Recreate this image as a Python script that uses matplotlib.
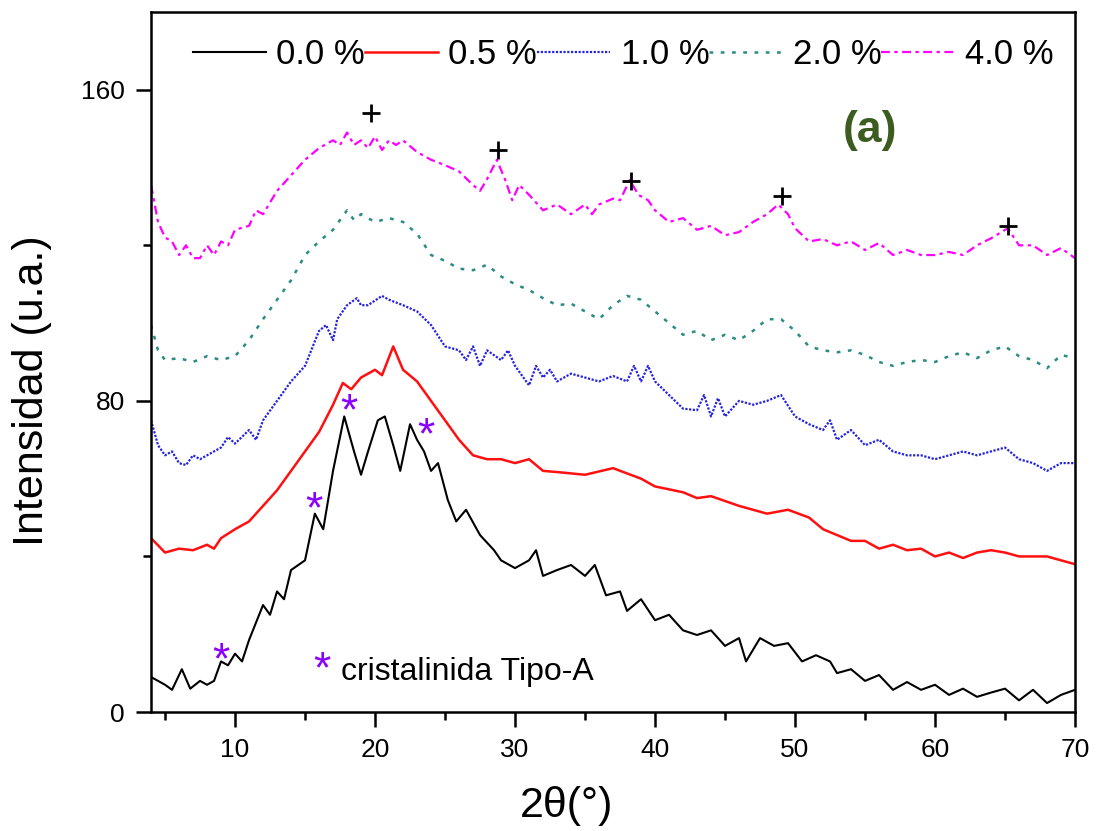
import matplotlib
matplotlib.use("Agg")
import matplotlib.pyplot as plt
from matplotlib.ticker import MultipleLocator

plt.rcParams["font.family"] = ["Liberation Sans", "DejaVu Sans"]

# 0.0 %
x0 = [4, 5, 5.5, 6.2, 6.8, 7.5, 8, 8.5, 9, 9.5, 10, 10.5, 11, 12, 12.5, 13, 13.5, 14, 15,
      15.7, 16.3, 17, 17.8, 18.5, 19, 19.5, 20.2, 20.7, 21.3, 21.8, 22.5, 23, 23.5, 24, 24.5,
      25.2, 25.8, 26.5, 27.5, 28.5, 29, 30, 31, 31.5, 32, 33, 34, 35, 35.7, 36.5, 37.5, 38,
      39, 40, 41, 42, 43, 44, 45, 46, 46.5, 47.5, 48.5, 49.5, 50.5, 51.5, 52.5, 53, 54, 55,
      56, 57, 58, 59, 60, 61, 62, 63, 64, 65, 66, 67, 68, 69, 70]
y0 = [9, 7, 5.7, 11, 6, 8, 7, 8, 13, 12, 15, 13, 18.5, 27.5, 25, 31, 29, 36.5, 39,
      51, 47, 62, 76, 67, 61, 67, 75, 76, 68.6, 62, 74, 70, 67, 62, 64,
      54.5, 49, 52, 45.5, 41.6, 39, 37, 39, 41.6, 35, 36.5, 37.8, 35, 37.8, 30, 31, 26,
      29, 23.6, 25, 21, 19.8, 21, 17, 19, 13, 19, 17, 17.7, 13, 14.6, 13, 10, 11, 8,
      9.5, 5.7, 7.7, 5.7, 7, 4.4, 6, 3.9, 5, 6, 3, 5.7, 2.3, 4.4, 5.7]

# 0.5 %
x05 = [4, 5, 6, 7, 8, 8.5, 9, 10, 11, 12, 13, 14, 15, 16, 17, 17.7, 18.3, 19, 20, 20.5,
       21.3, 22, 23, 24, 25, 26, 27, 28, 29, 30, 31, 32, 33, 35, 37, 39, 40, 42, 43, 44,
       46, 48, 49.5, 51, 52, 53, 54, 55, 56, 57, 58, 59, 60, 61, 62, 63, 64, 65, 66, 68, 70]
y05 = [44.7, 41, 42, 41.6, 43, 42, 44.7, 47, 49, 53, 57, 62, 67, 72, 79, 84.6, 83, 86, 88, 86.6,
       94, 88, 85, 80, 75, 70, 66, 65, 65, 64, 65, 62, 61.7, 61, 62.7, 60, 58, 56.5, 55, 55.5,
       53, 51, 52, 50, 47, 45.5, 44, 44, 42, 43, 41.6, 42, 40, 41, 39.6, 41, 41.6, 41, 40, 40, 38]

# 1.0 %
x1 = [4, 4.5, 5, 5.5, 6, 6.5, 7, 7.5, 8, 9, 9.5, 10, 11, 11.5, 12, 13, 14, 15, 16, 16.5,
      17, 17.3, 18, 18.7, 19, 19.5, 20.5, 21, 22, 23, 24, 25, 26, 26.5, 27, 27.5, 28, 29,
      29.5, 30, 31, 31.5, 32, 32.5, 33, 34, 35, 36, 37, 38, 38.5, 39, 39.5, 40, 41, 42, 43,
      43.5, 44, 44.5, 45, 46, 47, 48, 49, 50, 51, 52, 52.5, 53, 54, 55, 56, 57, 58, 59, 60,
      61, 62, 63, 64, 65, 66, 67, 68, 69, 70]
y1 = [75, 68.6, 66, 67, 64, 63.5, 66, 65, 66, 68, 70.7, 69, 72.5, 70, 75, 80, 85, 89, 98, 99.5,
      95.6, 101, 104.6, 106.4, 104.6, 104.6, 107, 106, 104.6, 103, 99.5, 94, 93, 90.5, 94, 89, 93, 90.5,
      93, 89, 84, 89, 86, 88, 85, 87, 86, 85, 86.4, 85, 89, 85, 89, 85, 81.5, 78, 77.6,
      81.5, 76, 80.7, 76, 80, 79, 80, 81.5, 76, 74, 72.5, 75, 70, 72.5, 68.6, 70, 67, 66, 66, 65,
      66, 67, 66, 67, 68, 65, 64, 62, 64, 64]

# 2.0 %
x2 = [4, 4.5, 5, 6, 7, 8, 9, 10, 11, 12, 13, 14, 15, 16, 17, 18, 18.5, 19, 20, 21, 22,
      23, 24, 25, 26, 27, 28, 29, 30, 31, 32, 33, 34, 35, 36, 37, 38, 39, 40, 41, 42, 43,
      44, 45, 46, 47, 48, 49, 50, 51, 52, 53, 54, 55, 56, 57, 58, 59, 60, 61, 62, 63, 64,
      65, 66, 67, 68, 69, 70]
y2 = [99.5, 93, 90.5, 91, 90, 91.5, 90.5, 91.5, 95.6, 101, 106, 111, 117.5, 121, 124, 129, 126.5, 128, 126, 127, 126,
      123, 117.5, 116, 114, 113.6, 115, 112, 110, 108.5, 106.4, 104.6, 105, 103, 101, 104.6, 107, 106, 103, 100, 97, 98,
      95.6, 97, 95.6, 98, 101, 101, 98, 94, 93, 92.5, 93, 91.8, 90, 89, 90, 90.5, 90, 91.5, 92.5, 91, 93,
      94, 91.5, 90.5, 88.4, 91.8, 91]

# 4.0 %
x4 = [4, 4.5, 5, 5.5, 6, 6.5, 7, 7.5, 8, 8.5, 9, 9.5, 10, 11, 11.5, 12, 13, 14, 15, 16,
      17, 17.5, 18, 18.5, 19, 19.5, 20, 20.5, 21, 21.5, 22, 23, 24, 25, 26, 27, 27.5, 28,
      28.7, 29.3, 29.8, 30.3, 31, 32, 33, 34, 35, 35.5, 36, 37, 37.5, 38.2, 38.8, 39.5, 40,
      41, 42, 43, 44, 45, 46, 47, 48, 48.8, 49.5, 50, 51, 52, 53, 54, 55, 56, 57, 58, 59,
      60, 61, 62, 63, 64, 65.2, 66, 67, 68, 69, 70]
y4 = [135.5, 126, 122, 121, 117.5, 120, 116.7, 116.7, 120, 117.5, 121, 120, 124, 125, 129, 128, 134, 138, 142, 145,
      147, 145.8, 149, 145.8, 147, 145, 148, 144.5, 147, 145.8, 147, 144, 142, 140.6, 139, 135.5, 134, 137,
      142, 136.8, 131.6, 135.5, 133, 129, 130.5, 128, 130.5, 128, 130.5, 132, 131.6, 136.8, 133, 131.6, 129,
      126, 127, 124, 125, 122.6, 123.4, 126, 128, 130.5, 128, 124.4, 121, 121.6, 120, 121, 118.8, 120.6, 117.5, 118.8, 117.5,
      117.5, 118.3, 117.5, 120, 121.8, 124.4, 120, 120, 117.5, 119.3, 116.7]

labels = ["0.0 %", "0.5 %", "1.0 %", "2.0 %", "4.0 %"]

# marcadores de picos
plus_x = [19.7, 28.8, 38.3, 49.1, 65.2]
plus_y = [154, 144.5, 136.5, 132.6, 125]
star_x = [9.0, 15.6, 18.1, 23.6]
star_y = [16, 55, 80.2, 74]

fig = plt.figure(figsize=(11, 8.31), dpi=100)
ax = fig.add_axes([0.1373, 0.1432, 0.84, 0.8424])

ax.plot(x0, y0, color="black", lw=1.5, label=labels[0])
ax.plot(x05, y05, color="#ff1010", lw=1.8, label=labels[1])
ax.plot(x1, y1, color="#2424e0", lw=1.6, ls=(0, (1, 0.7)), label=labels[2])
ax.plot(x2, y2, color="#2a8c84", lw=1.8, ls=(0, (1.5, 3)), label=labels[3])
ax.plot(x4, y4, color="#ff00ff", lw=1.6, ls=(0, (4, 2, 1.5, 2)), label=labels[4])

ax.plot(plus_x, plus_y, ls="none", marker="+", ms=13, mew=2, color="black")
# el glifo "*" queda alto en su caja: se baja un poco
for sx, sy in zip(star_x, star_y):
    ax.text(sx, sy - 3.2, "*", color="#8a00ff", fontsize=32, ha="center", va="center")
ax.text(16.2, 13.9 - 3.2, "*", color="#8a00ff", fontsize=32, ha="center", va="center")
ax.text(17.6, 10.2, "cristalinida Tipo-A", fontsize=23, ha="left", va="center")
ax.text(0.778, 0.831, "(a)", transform=ax.transAxes, fontsize=32, fontweight="bold",
        color="#3d5c1f", ha="center", va="center")

ax.set_xlim(4, 70)
ax.set_ylim(0, 180)
ax.xaxis.set_major_locator(MultipleLocator(10))
ax.xaxis.set_minor_locator(MultipleLocator(5))
ax.yaxis.set_major_locator(MultipleLocator(80))
ax.yaxis.set_minor_locator(MultipleLocator(40))
ax.tick_params(which="major", direction="out", length=11, width=1.8, labelsize=19, pad=8)
ax.tick_params(which="minor", direction="out", length=6, width=1.8)
for s in ax.spines.values():
    s.set_linewidth(1.8)

ax.set_xlabel("2θ(°)", fontsize=31)
ax.xaxis.set_label_coords(0.45, -0.105)
ax.set_ylabel("Intensidad (u.a.)", fontsize=31)
ax.yaxis.set_label_coords(-0.107, 0.459)

ax.legend(loc="center", bbox_to_anchor=(0.511, 0.939), ncol=5, frameon=False,
          fontsize=25, handlelength=2.1, handletextpad=0.3, columnspacing=0.0,
          borderpad=0, borderaxespad=0)

fig.savefig("out.png", dpi=100)
